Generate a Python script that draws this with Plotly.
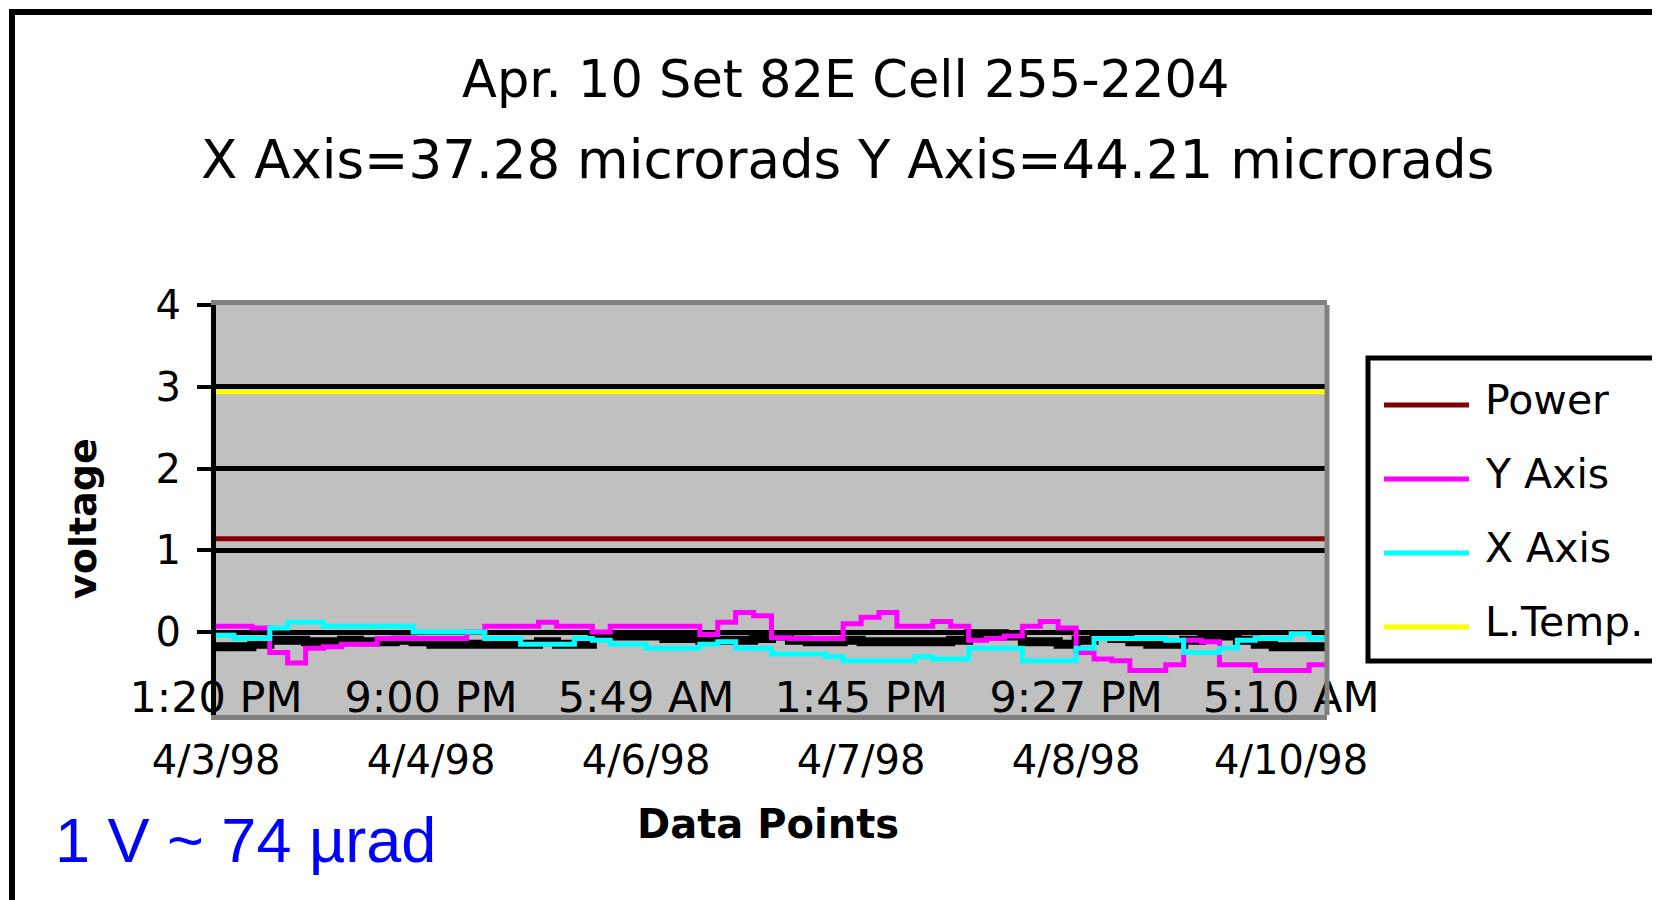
import plotly.graph_objects as go

# The page puts the plot 8px in from the top-left corner of the window,
# so the figure is 1652 x 892 and all positions below are window pixels.
OFF = 8
W, H = 1660 - OFF, 900 - OFF
L, R, T, B = 216, 1327, 305, 715  # plot area, window pixels


def px(x):
    return (x - L) / (R - L)


def py(y):
    return (B - y) / (B - T)


# data: one reading per index, tick labels every 12 readings
idx = list(range(63))
tick_idx = [0, 12, 24, 36, 48, 60]
tick_times = ["1:20 PM", "9:00 PM", "5:49 AM", "1:45 PM", "9:27 PM", "5:10 AM"]
tick_dates = ["4/3/98", "4/4/98", "4/6/98", "4/7/98", "4/8/98", "4/10/98"]

y_axis_v = [0.07, 0.07, 0.05, -0.25, -0.38, -0.2, -0.18, -0.15, -0.15, -0.08,
            -0.08, -0.08, -0.08, -0.08, 0.0, 0.07, 0.07, 0.07, 0.12, 0.07,
            0.07, 0.0, 0.07, 0.07, 0.07, 0.07, 0.07, -0.03, 0.12, 0.24,
            0.2, -0.07, -0.08, -0.08, -0.08, 0.1, 0.18, 0.24, 0.07, 0.07,
            0.13, 0.07, -0.1, -0.08, -0.05, 0.07, 0.13, 0.05, -0.25, -0.33,
            -0.35, -0.47, -0.47, -0.4, -0.1, -0.12, -0.4, -0.4, -0.47, -0.47,
            -0.47, -0.4, -0.35]
x_axis_v = [-0.04, -0.08, -0.08, 0.05, 0.12, 0.12, 0.07, 0.07, 0.07, 0.07,
            0.07, 0.0, 0.0, 0.0, 0.0, -0.08, -0.08, -0.15, -0.15, -0.15,
            -0.08, -0.1, -0.15, -0.15, -0.2, -0.2, -0.2, -0.15, -0.12, -0.2,
            -0.2, -0.27, -0.27, -0.27, -0.3, -0.35, -0.35, -0.35, -0.35, -0.3,
            -0.33, -0.33, -0.2, -0.2, -0.2, -0.35, -0.35, -0.35, -0.2, -0.08,
            -0.08, -0.08, -0.08, -0.1, -0.25, -0.25, -0.2, -0.1, -0.08, -0.08,
            -0.02, -0.08, -0.08]
black_v = [-0.18, -0.18, -0.15, -0.1, -0.1, -0.12, -0.12, -0.1, -0.12, -0.12,
           -0.1, -0.12, -0.15, -0.15, -0.15, -0.15, -0.15, -0.15, -0.12, -0.15,
           -0.15, -0.05, -0.05, -0.05, -0.05, -0.08, -0.08, -0.1, -0.1, -0.1,
           -0.08, -0.05, -0.1, -0.12, -0.12, -0.1, -0.12, -0.12, -0.12, -0.12,
           -0.12, -0.1, -0.02, -0.02, -0.05, -0.12, -0.12, -0.15, -0.1, -0.05,
           -0.08, -0.12, -0.15, -0.15, -0.1, -0.05, -0.05, -0.1, -0.15, -0.18,
           -0.18, -0.18, -0.18]
flat_idx = [0, 62]
power_v = [1.14, 1.14]
ltemp_v = [2.94, 2.94]

legend_names = ["Power", "Y Axis", "X Axis", "L.Temp."]
legend_colors = ["#800000", "#FF00FF", "#00FFFF", "#FFFF00"]

FONT = "DejaVu Sans"

fig = go.Figure()
fig.add_trace(go.Scatter(x=idx, y=black_v, mode="lines", name="Temp",
                         line=dict(color="black", width=9, shape="hv"), showlegend=False))
fig.add_trace(go.Scatter(x=idx, y=y_axis_v, mode="lines", name="Y Axis",
                         line=dict(color="#FF00FF", width=5, shape="hv"), showlegend=False))
fig.add_trace(go.Scatter(x=idx, y=x_axis_v, mode="lines", name="X Axis",
                         line=dict(color="#00FFFF", width=5, shape="hv"), showlegend=False))
fig.add_trace(go.Scatter(x=flat_idx, y=power_v, mode="lines", name="Power", xaxis="x2",
                         line=dict(color="#800000", width=5), showlegend=False))
fig.add_trace(go.Scatter(x=flat_idx, y=ltemp_v, mode="lines", name="L.Temp.", xaxis="x2",
                         line=dict(color="#FFFF00", width=5), showlegend=False))


def note(text, x, y, size, xanchor="center", **kw):
    return dict(text=text, x=px(x), y=py(y), xref="paper", yref="paper",
                xanchor=xanchor, yanchor="middle", showarrow=False,
                font=dict(family=kw.pop("family", FONT), size=size,
                          color=kw.pop("color", "black")), **kw)


shapes = [
    # outer frame
    dict(type="rect", xref="paper", yref="paper", x0=px(12), x1=px(1700), y0=py(12), y1=py(960),
         line=dict(color="black", width=6), layer="below"),
    # right border of plot area
    dict(type="line", xref="paper", yref="paper", x0=1, x1=1, y0=0, y1=1,
         line=dict(color="#808080", width=5), layer="above"),
    # legend box
    dict(type="rect", xref="paper", yref="paper", x0=px(1368), x1=px(1720), y0=py(358), y1=py(661),
         line=dict(color="black", width=5), fillcolor="white", layer="above"),
]
annotations = [
    note("Apr. 10 Set 82E Cell 255-2204", 845, 80, 51),
    note("X Axis=37.28 microrads Y Axis=44.21 microrads", 847, 160, 53),
    note("<b>voltage</b>", 83, 519, 38, textangle=-90),
    note("<b>Data Points</b>", 768, 824, 40),
    note("1 V ~ 74 µrad", 53, 840, 63, xanchor="left", family="Liberation Sans", color="#0000FF"),
]
for k, (name, color) in enumerate(zip(legend_names, legend_colors)):
    ly = 405 + 74 * k
    shapes.append(dict(type="line", xref="paper", yref="paper", x0=px(1384), x1=px(1469),
                       y0=py(ly), y1=py(ly), line=dict(color=color, width=5), layer="above"))
    annotations.append(note(name, 1483, ly - 5, 41, xanchor="left"))

fig.update_layout(
    width=W, height=H, autosize=False,
    margin=dict(l=L - OFF, r=1660 - R, t=T - OFF, b=900 - B, pad=0),
    paper_bgcolor="white", plot_bgcolor="#C0C0C0",
    font=dict(family=FONT, color="black"),
    showlegend=False,
    xaxis=dict(range=[0, 62], tickvals=tick_idx, ticktext=tick_times,
               ticklabelposition="inside", ticklabeloverflow="allow", ticks="",
               showgrid=False, zeroline=False, showline=True, linecolor="#808080",
               linewidth=5, mirror=True, tickfont=dict(size=43, family=FONT, color="black")),
    xaxis2=dict(range=[0, 62], overlaying="x", anchor="y", side="bottom",
                tickvals=tick_idx, ticktext=tick_dates, ticks="outside", ticklen=10,
                tickcolor="rgba(0,0,0,0)", showgrid=False, zeroline=False, showline=False,
                tickfont=dict(size=40, family=FONT, color="black")),
    yaxis=dict(range=[-1.015, 4.0], tickvals=[0, 1, 2, 3, 4], showgrid=True,
               gridcolor="black", gridwidth=5, zeroline=False, showline=True,
               linecolor="black", linewidth=5, ticks="outside", ticklen=14, tickwidth=4,
               tickcolor="black", ticklabelstandoff=8,
               tickfont=dict(size=40, family=FONT, color="black")),
    shapes=shapes,
    annotations=annotations,
)

fig.write_html("out.html")
